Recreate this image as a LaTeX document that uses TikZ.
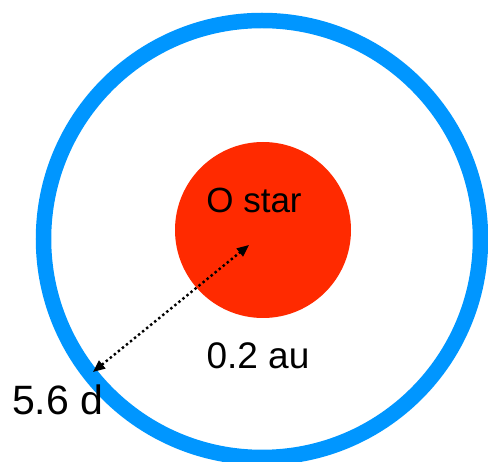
\documentclass[tikz,border=0pt]{standalone}
\usepackage{fontspec}
\setmainfont{Liberation Sans}
\usetikzlibrary{arrows.meta}
\definecolor{orbitblue}{RGB}{0,150,255}
\definecolor{starred}{RGB}{255,42,0}
\begin{document}
\begin{tikzpicture}[x=1pt,y=-1pt,
  lbl/.style={inner sep=0pt},
  dist/.style={line width=2.4pt,dash pattern=on 2.4pt off 2.8pt,{Triangle[length=12pt,width=10pt]}-{Triangle[length=12pt,width=10pt]}}]
\useasboundingbox (0,0) rectangle (488,462);
\coordinate (oc) at (262,239);
\coordinate (sc) at (263,230);
\begin{scope}
\clip (0,0) rectangle (488,462);
\draw[orbitblue,line width=15.5pt] (oc) circle[radius=218.5];
\end{scope}
\fill[starred] (sc) circle[radius=88];
\node[lbl,anchor=base,font=\fontsize{35}{40}\selectfont] (name) at (254,213) {O star};
\node[lbl,anchor=base,font=\fontsize{37}{42}\selectfont] (au) at (258,369) {0.2 au};
\node[lbl,anchor=base west,font=\fontsize{41}{46}\selectfont] (per) at (12,415) {5.6 d};
\coordinate (a) at (249,245);
\coordinate (b) at (93,372);
\draw[dist] (b) -- (a);
\end{tikzpicture}
\end{document}
